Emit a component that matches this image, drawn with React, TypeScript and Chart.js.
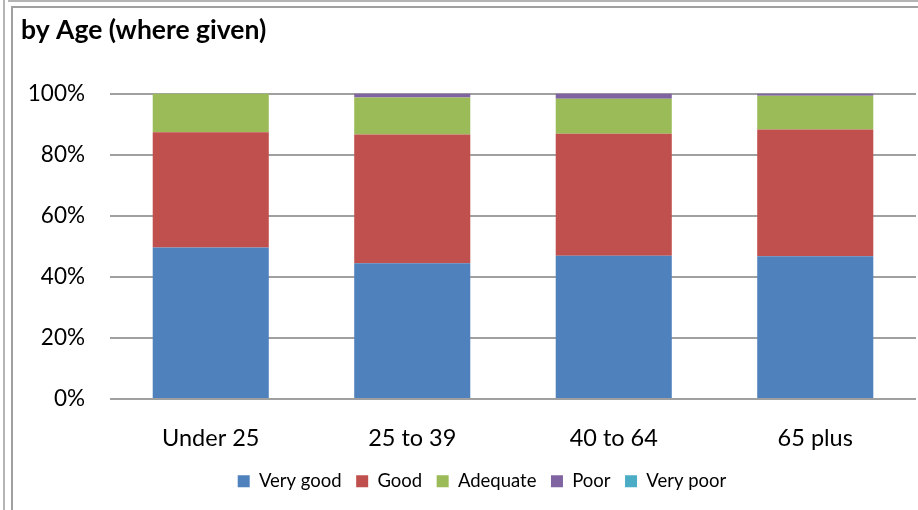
import React, { useEffect, useRef } from "react";
import { Chart, registerables } from "chart.js";

Chart.register(...registerables);

const categories = ["Under 25", "25 to 39", "40 to 64", "65 plus"];
const veryGood = [49.6, 44.4, 46.9, 46.7];
const good = [37.7, 42.2, 39.9, 41.5];
const adequate = [12.7, 12.1, 11.5, 11.1];
const poor = [0, 1.3, 1.7, 0.7];
const veryPoor = [0, 0, 0, 0];
const yTicks = [0, 20, 40, 60, 80, 100];

const FONT = "Lato";

export default function App() {
  const ref = useRef<HTMLCanvasElement | null>(null);

  useEffect(() => {
    if (!ref.current) return;
    const mk = (label: string, data: number[], color: string) => ({
      label,
      data,
      backgroundColor: color,
      borderWidth: 0,
      categoryPercentage: 1,
      barPercentage: 0.576,
    });
    const chart = new Chart(ref.current, {
      type: "bar",
      data: {
        labels: categories,
        datasets: [
          mk("Very good", veryGood, "#4F81BD"),
          mk("Good", good, "#C0504D"),
          mk("Adequate", adequate, "#9BBB59"),
          mk("Poor", poor, "#8064A2"),
          mk("Very poor", veryPoor, "#4BACC6"),
        ],
      },
      options: {
        animation: false,
        responsive: false,
        devicePixelRatio: 1,
        layout: { padding: { left: 9, right: 0, top: 0, bottom: 9.5 } },
        plugins: {
          title: {
            display: true,
            text: "by Age (where given)",
            align: "start",
            color: "#000",
            font: { family: FONT, size: 26.5, weight: "bold" },
            padding: { top: 8, bottom: 46.7 },
          },
          legend: {
            display: true,
            position: "bottom",
            labels: {
              boxWidth: 12,
              boxHeight: 12,
              padding: 14.5,
              color: "#000",
              font: { family: FONT, size: 18.5 },
            },
          },
          tooltip: { enabled: false },
        },
        scales: {
          x: {
            stacked: true,
            grid: { display: false },
            border: { display: false },
            ticks: {
              color: "#000",
              padding: 17.3,
              font: { family: FONT, size: 23.5 },
              maxRotation: 0,
            },
            afterFit: (s: any) => {
              s.height = 58.5;
            },
          },
          y: {
            stacked: true,
            min: 0,
            max: 100,
            afterBuildTicks: (s: any) => {
              s.ticks = yTicks.map((v) => ({ value: v }));
            },
            grid: { color: "#a0a0a0", lineWidth: 2, drawTicks: false },
            border: { display: false },
            ticks: {
              color: "#000",
              padding: 25,
              font: { family: FONT, size: 22.5 },
              callback: (v: any) => v + "%",
            },
            afterFit: (s: any) => {
              s.width = 89;
            },
          },
          y2: {
            position: "right",
            display: true,
            grid: { display: false },
            border: { display: false },
            ticks: { display: false },
            afterFit: (s: any) => {
              s.width = 27;
            },
          },
        },
      } as any,
    });
    return () => chart.destroy();
  }, []);

  return (
    <div
      style={{
        position: "fixed",
        left: 0,
        top: 0,
        width: 918,
        height: 510,
        overflow: "hidden",
        background: "#fff",
      }}
    >
      <div style={{ position: "absolute", left: 3, top: 0, width: 2, height: 510, background: "#b4b4b4" }} />
      <div style={{ position: "absolute", left: 8, top: 0, width: 910, height: 2, background: "#b4b4b4" }} />
      <div style={{ position: "absolute", left: 11, top: 6, width: 2, height: 504, background: "#a0a0a0" }} />
      <div style={{ position: "absolute", left: 11, top: 6, width: 907, height: 2, background: "#a0a0a0" }} />
      <canvas
        ref={ref}
        width={931}
        height={503}
        style={{ position: "absolute", left: 12, top: 7, width: 931, height: 503 }}
      />
    </div>
  );
}
